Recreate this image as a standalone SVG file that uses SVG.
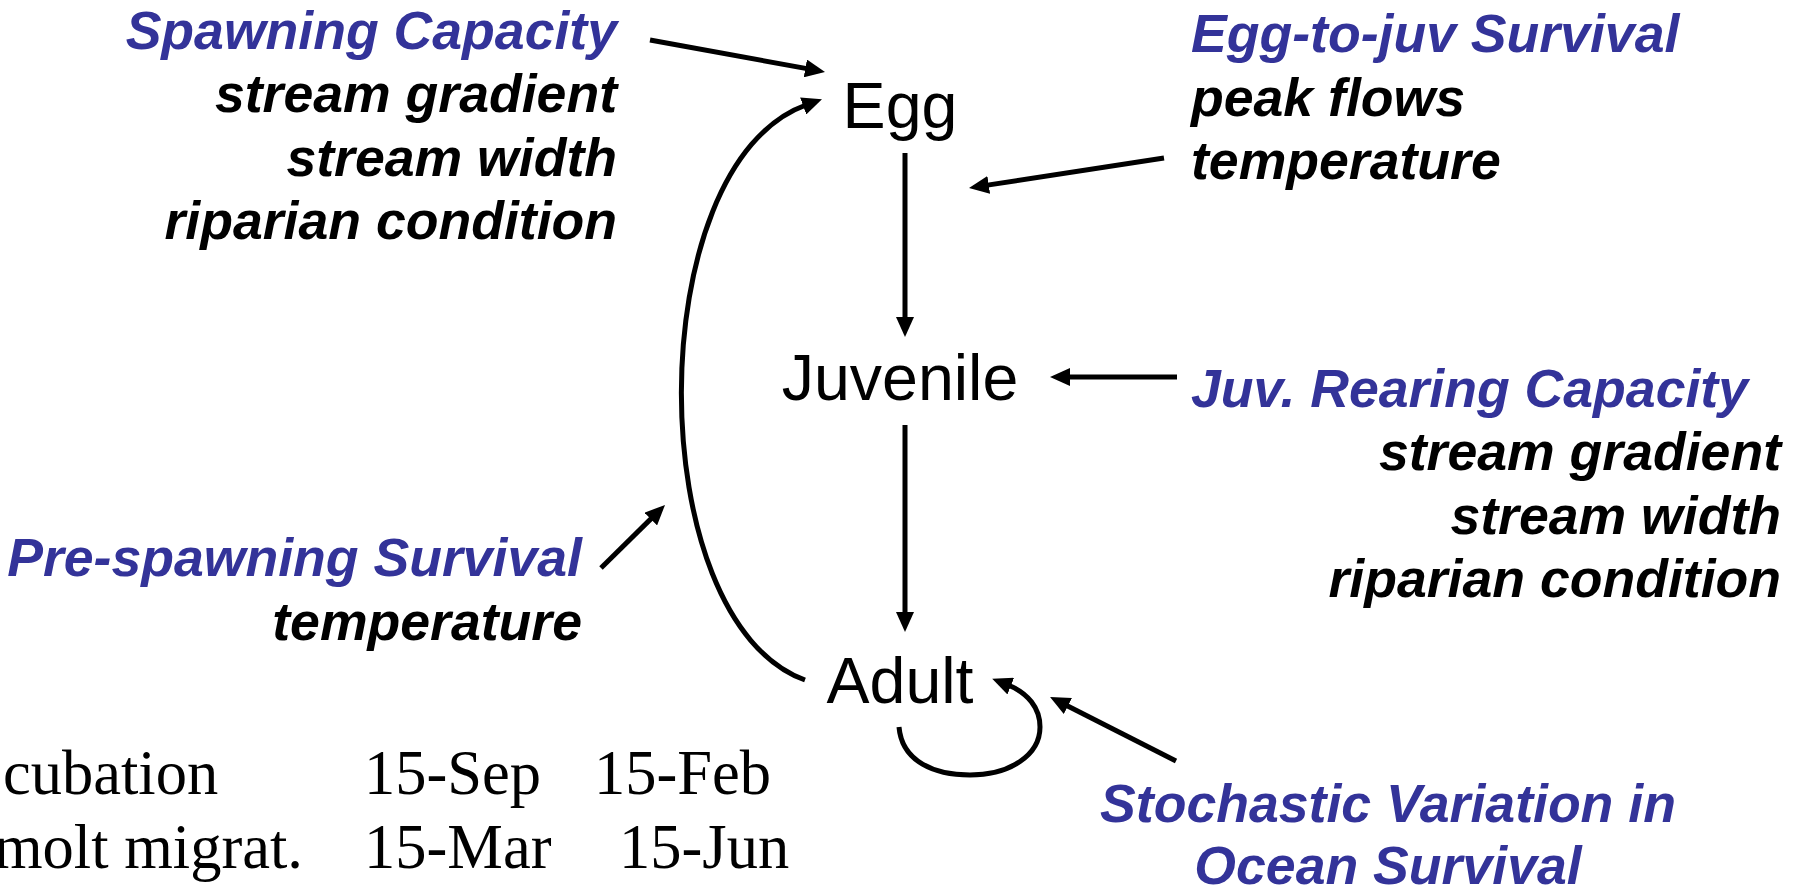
<svg xmlns="http://www.w3.org/2000/svg" width="1803" height="891" viewBox="0 0 1803 891">
<style>
.node{font-family:"Liberation Sans",Arial,sans-serif;font-size:64.5px;fill:#000}
.h{font-family:"Liberation Sans",Arial,sans-serif;font-size:53.6px;font-weight:bold;font-style:italic;fill:#333399}
.f{font-family:"Liberation Sans",Arial,sans-serif;font-size:53.6px;font-weight:bold;font-style:italic;fill:#000}
.t{font-family:"Liberation Serif","Times New Roman",serif;font-size:62.5px;fill:#000}
.c{fill:none;stroke:#000;stroke-width:5;marker-end:url(#ah)}
</style>
<defs>
<marker id="ah" viewBox="0 0 20 18" refX="3" refY="9" markerWidth="20" markerHeight="18" markerUnits="userSpaceOnUse" orient="auto">
<path d="M0,0 L20,9 L0,18 z" fill="#000"/>
</marker>
</defs>
<rect width="1803" height="891" fill="#fff"/>
<g id="connectors">
<path class="c" d="M650,40 L808.3,68.9"/>
<path class="c" d="M905,153 L905,320"/>
<path class="c" d="M905,425 L905,615"/>
<path class="c" d="M1164,158 L985.8,185.4"/>
<path class="c" d="M1177,377 L1067,377"/>
<path class="c" d="M601,568 L652.9,516.9"/>
<path class="c" d="M1176,761 L1065.2,704.7"/>
<path class="c" d="M805,680 C640,620 640,165 806,105"/>
<path class="c" d="M899,727 C902,762 935,775 970,775 C1010,775 1040,755 1040,727 C1040,708 1028,693 1008,685"/>
</g>
<g id="egg"><text class="node" x="900" y="128" text-anchor="middle">Egg</text></g>
<g id="juvenile"><text class="node" x="900" y="400" text-anchor="middle">Juvenile</text></g>
<g id="adult"><text class="node" x="900" y="703" text-anchor="middle">Adult</text></g>
<g id="spawning-capacity">
<text class="h" x="617" y="49" text-anchor="end">Spawning Capacity</text>
<text class="f" x="617" y="112" text-anchor="end">stream gradient</text>
<text class="f" x="617" y="176" text-anchor="end">stream width</text>
<text class="f" x="617" y="239" text-anchor="end">riparian condition</text>
</g>
<g id="egg-to-juv-survival">
<text class="h" x="1191" y="52">Egg-to-juv Survival</text>
<text class="f" x="1191" y="116">peak flows</text>
<text class="f" x="1191" y="179">temperature</text>
</g>
<g id="juv-rearing-capacity">
<text class="h" x="1191" y="407">Juv. Rearing Capacity</text>
<text class="f" x="1781" y="470" text-anchor="end">stream gradient</text>
<text class="f" x="1781" y="534" text-anchor="end">stream width</text>
<text class="f" x="1781" y="597" text-anchor="end">riparian condition</text>
</g>
<g id="pre-spawning-survival">
<text class="h" x="582" y="576" text-anchor="end">Pre-spawning Survival</text>
<text class="f" x="582" y="640" text-anchor="end">temperature</text>
</g>
<g id="ocean-survival">
<text class="h" x="1388" y="822" text-anchor="middle">Stochastic Variation in</text>
<text class="h" x="1388" y="884" text-anchor="middle">Ocean Survival</text>
</g>
<g id="table">
<text class="t" x="3" y="794">cubation</text>
<text class="t" x="364" y="794">15-Sep</text>
<text class="t" x="594" y="794">15-Feb</text>
<text class="t" x="-6" y="868">molt migrat.</text>
<text class="t" x="364" y="868">15-Mar</text>
<text class="t" x="619" y="868">15-Jun</text>
</g>
</svg>
